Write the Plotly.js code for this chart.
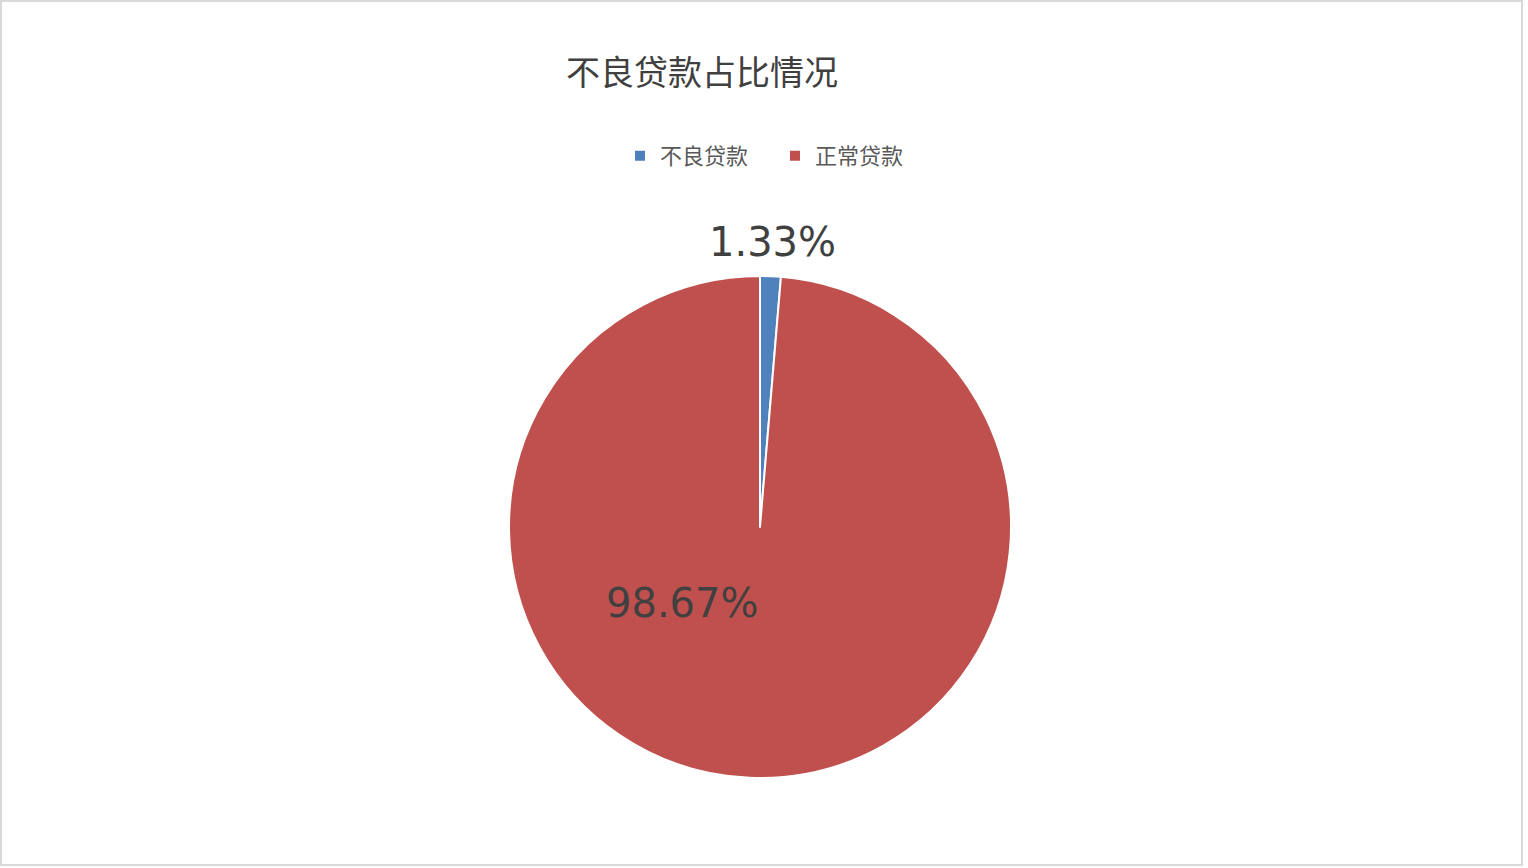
<!DOCTYPE html>
<html>
<head>
<meta charset="utf-8">
<script src="https://cdn.plot.ly/plotly-3.0.1.min.js"></script>
<style>
  html, body { margin: 0; padding: 0; background: #ffffff; }
  #chart {
    position: absolute; left: 0; top: 0;
    width: 1519px; height: 862px;
    border: 2px solid #d9d9d9;
  }
</style>
</head>
<body>
<div id="chart"></div>
<script>
// Share of loans by quality
const categories = ['不良贷款', '正常贷款'];
const values = [1.33, 98.67];
const chartTitle = '不良贷款占比情况';
const colors = ['#4F81BD', '#C0504D'];

const W = 1519, H = 862;
const margin = { l: 507, r: 510, t: 274, b: 86, pad: 0 };
const plotW = W - margin.l - margin.r;
const plotH = H - margin.t - margin.b;

// convert a pixel position inside the chart div to paper coordinates
function px2paper(x, y) {
  return { x: (x - margin.l) / plotW, y: (H - margin.b - y) / plotH };
}

const total = values.reduce((a, b) => a + b, 0);
const pctText = values.map(v => (v / total * 100).toFixed(2) + '%');

const labelPos = [px2paper(770, 240), px2paper(680, 601)];

const annotations = pctText.map((t, i) => ({
  text: t,
  xref: 'paper', yref: 'paper',
  x: labelPos[i].x, y: labelPos[i].y,
  xanchor: 'center', yanchor: 'middle',
  showarrow: false,
  font: { family: 'DejaVu Sans', size: 40, color: '#404040' }
}));

const trace = {
  type: 'pie',
  labels: categories,
  values: values,
  sort: false,
  direction: 'clockwise',
  rotation: 0,
  textinfo: 'none',
  hoverinfo: 'label+percent',
  marker: { colors: colors, line: { color: '#ffffff', width: 2 } },
  automargin: false
};

const layout = {
  width: W, height: H,
  margin: margin,
  paper_bgcolor: '#ffffff',
  plot_bgcolor: '#ffffff',
  showlegend: true,
  title: {
    text: chartTitle,
    xref: 'container', yref: 'container',
    x: 700 / W, y: 1 - 71 / H,
    xanchor: 'center', yanchor: 'middle',
    font: { family: 'Noto Sans CJK SC', size: 34, color: '#404040' }
  },
  legend: {
    orientation: 'h',
    xref: 'container', yref: 'container',
    x: 618 / W, y: 1 - 154 / H,
    xanchor: 'left', yanchor: 'middle',
    font: { family: 'Noto Sans CJK SC', size: 22, color: '#595959' },
    itemwidth: 30,
    entrywidth: 110,
    entrywidthmode: 'pixels',
    traceorder: 'normal'
  },
  annotations: annotations
};

Plotly.newPlot('chart', [trace], layout, { displayModeBar: false, staticPlot: true });
</script>
</body>
</html>
